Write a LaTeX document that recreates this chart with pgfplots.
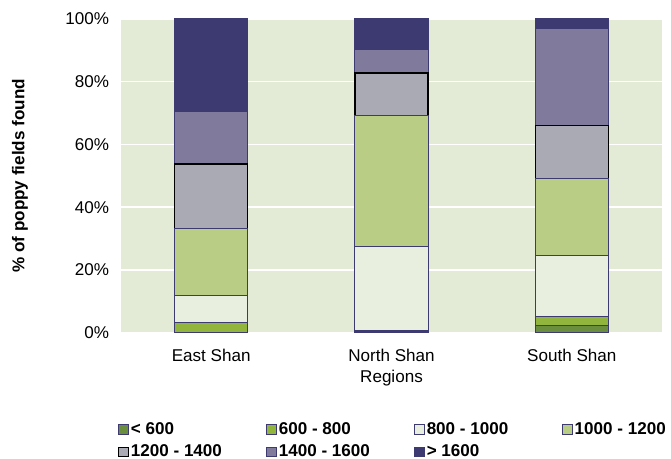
\documentclass[border=0pt]{standalone}
\usepackage{pgfplots}
\pgfplotsset{compat=1.18}
\usepackage{fontspec}
\setmainfont{Liberation Sans}
\definecolor{cA}{RGB}{107,142,62}
\definecolor{cB}{RGB}{146,182,61}
\definecolor{cC}{RGB}{233,239,223}
\definecolor{cD}{RGB}{186,205,132}
\definecolor{cE}{RGB}{170,170,180}
\definecolor{cF}{RGB}{128,123,157}
\definecolor{cG}{RGB}{61,57,113}
\definecolor{edge}{RGB}{61,57,113}
\definecolor{bg}{RGB}{227,235,215}
\begin{document}
\begin{tikzpicture}
\useasboundingbox (0,0) rectangle (503.25pt,-344.25pt);
\begin{axis}[
  at={(90.75pt,-249.5pt)}, anchor=south west,
  scale only axis,
  width=405.75pt, height=235.3pt,
  xmin=-0.5, xmax=2.5, ymin=0, ymax=100,
  ybar stacked, bar width=0.405,
  axis background/.style={fill=bg},
  axis line style={draw=none},
  major tick style={draw=none},
  ymajorgrids, grid style={white, line width=1.2pt},
  xtick={0,1,2}, xticklabels={East Shan, North Shan, South Shan},
  ytick={0,20,40,60,80,100},
  yticklabel={\pgfmathprintnumber{\tick}\%},
  /pgf/number format/assume math mode=true,
  tick label style={font=\fontsize{12.8}{15}\selectfont},
  yticklabel style={xshift=-5.5pt},
  xticklabel style={yshift=-8.6pt},
  xlabel={Regions}, xlabel style={font=\fontsize{12.8}{15}\selectfont, at={(axis description cs:0.5,-0.1445)}, anchor=center},
  ylabel={\textbf{\% of poppy fields found}}, ylabel style={font=\fontsize{12.8}{15}\selectfont, at={(axis description cs:-0.1867,0.5)}, anchor=center},
  legend columns=4,
  legend cell align=left,
  legend style={at={(-0.006,-0.279)}, anchor=north west, draw=none, fill=none,
    font=\fontsize{12.8}{15}\selectfont\bfseries, inner sep=0pt,
    nodes={inner sep=1.5pt},
    column sep=0pt,
    row sep=3.5pt},
  legend image code/.code={\draw[#1, line width=0.75pt] (0pt,-3.7pt) rectangle (7.4pt,3.7pt);},
  every axis plot/.append style={line width=0.75pt},
]
\addplot[fill=cA, draw=edge] coordinates {(0,0) (1,0.3) (2,2.2)};
\addplot[fill=cB, draw=edge] coordinates {(0,3.2) (1,0.3) (2,3.1)};
\addplot[fill=cC, draw=edge] coordinates {(0,8.7) (1,27.0) (2,19.4)};
\addplot[fill=cD, draw=edge] coordinates {(0,21.4) (1,41.5) (2,24.3)};
\addplot[fill=cE, draw=black, line width=1pt] coordinates {(0,20.5) (1,13.7) (2,17.1)};
\addplot[fill=cF, draw=edge] coordinates {(0,16.8) (1,7.6) (2,30.7)};
\addplot[fill=cG, draw=edge] coordinates {(0,29.4) (1,9.6) (2,3.2)};
\addlegendentry{\makebox[99.8pt][l]{< 600}}
\addlegendentry{\makebox[99.8pt][l]{600 - 800}}
\addlegendentry{\makebox[99.8pt][l]{800 - 1000}}
\addlegendentry{\makebox[70pt][l]{1000 - 1200}}
\addlegendentry{\makebox[99.8pt][l]{1200 - 1400}}
\addlegendentry{\makebox[99.8pt][l]{1400 - 1600}}
\addlegendentry{\makebox[99.8pt][l]{> 1600}}
\end{axis}
\end{tikzpicture}
\end{document}
